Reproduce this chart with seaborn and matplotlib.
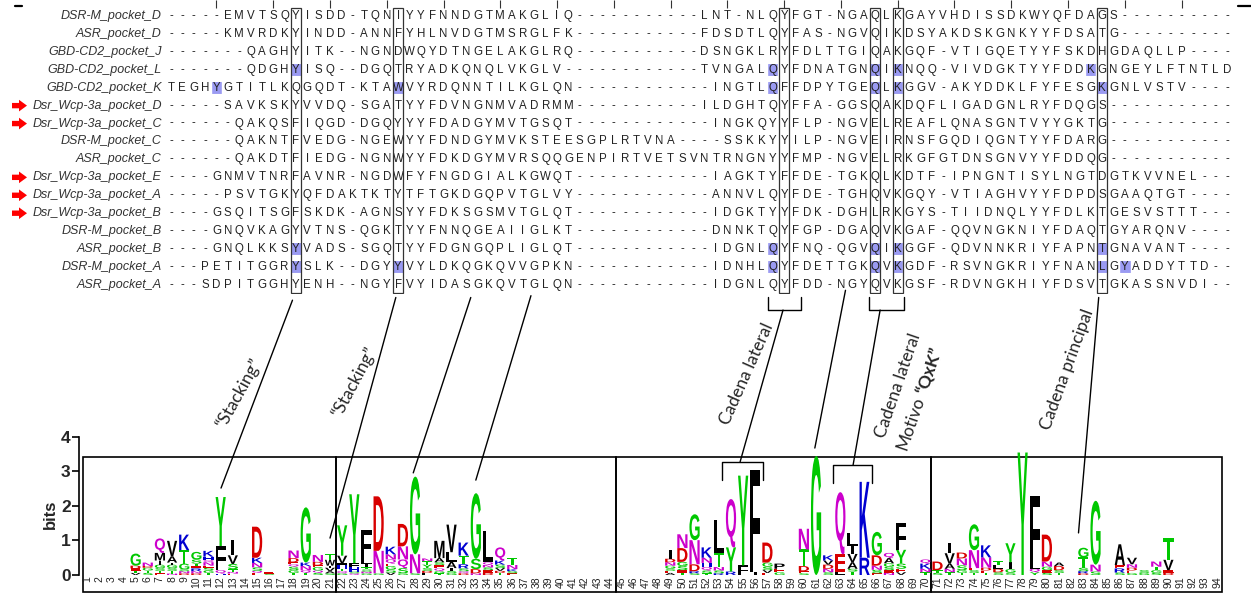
import numpy as np
import seaborn as sns
import matplotlib.pyplot as plt
from matplotlib.colors import ListedColormap
from matplotlib.patches import Rectangle, PathPatch, FancyArrow, ConnectionPatch
from matplotlib.textpath import TextPath
from matplotlib.font_manager import FontProperties
from matplotlib.transforms import Affine2D, blended_transform_factory

# alignment (94 columns)
names = ["DSR-M_pocket_D", "ASR_pocket_D", "GBD-CD2_pocket_J", "GBD-CD2_pocket_L",
         "GBD-CD2_pocket_K", "Dsr_Wcp-3a_pocket_D", "Dsr_Wcp-3a_pocket_C", "DSR-M_pocket_C",
         "ASR_pocket_C", "Dsr_Wcp-3a_pocket_E", "Dsr_Wcp-3a_pocket_A", "Dsr_Wcp-3a_pocket_B",
         "DSR-M_pocket_B", "ASR_pocket_B", "DSR-M_pocket_A", "ASR_pocket_A"]
seqs = [
    "-----EMVTSQYISDD-TQNIYYFNNDGTMAKGLIQ-----------LNT-NLQYFGT-NGAQLKGAYVHDISSDKWYQFDAGS----------",
    "-----KMVRDKYINDD-ANNFYHLNVDGTMSRGLFK-----------FDSDTLQYFAS-NGVQIKDSYAKDSKGNKYYFDSATG----------",
    "-------QAGHYITK--NGNDWQYDTNGELAKGLRQ-----------DSNGKLRYFDLTTGIQAKGQF-VTIGQETYYFSKDHGDAQLLP----",
    "-------QDGHYISQ--DGQTRYADKQNQLVKGLV------------TVNGALQYFDNATGNQIKNQQ-VIVDGKTYYFDDKGNGEYLFTNTLD",
    "TEGHYGTITLKQGQDT-KTAWVYRDQNNTILKGLQN------------INGTLQFFDPYTGEQLKGGV-AKYDDKLFYFESGKGNLVSTV----",
    "-----SAVKSKYVVDQ-SGATYYFDVNGNMVADRMM-----------ILDGHTQYFFA-GGSQAKDQFLIGADGNLRYFDQGS-----------",
    "------QAKQSFIQGD-DGQYYYFDADGYMVTGSQT------------INGKQYYFLP-NGVELREAFLQNASGNTVYYGKTG-----------",
    "------QAKNTFVEDG-NGEWYYFDNDGYMVKSTEESGPLRTVNA----SSKKYYILP-NGVEIRNSFGQDIQGNTYYFDARG-----------",
    "------QAKDTFIEDG-NGNWYYFDKDGYMVRSQQGENPIRTVETSVNTRNGNYYFMP-NGVELRKGFGTDNSGNVYYFDDQG-----------",
    "----GNMVTNRFAVNR-NGDWFYFNGDGIALKGWQT------------IAGKTYFFDE-TGKQLKDTF-IPNGNTISYLNGTDGTKVVNEL---",
    "-----PSVTGKYQFDAKTKTYTFTGKDGQPVTGLVY------------ANNVLQYFDE-TGHQVKGQY-VTIAGHVYYFDPDSGAAQTGT----",
    "----GSQITSGFSKDK-AGNSYYFDKSGSMVTGLQT------------IDGKTYYFDK-DGHLRKGYS-TIIDNQLYYFDLKTGESVSTTT---",
    "----GNQVKAGYVTNS-QGKTYYFNNQGEAIIGLKT------------DNNKTQYFGP-DGAQVKGAF-QQVNGKNIYFDAQTGYARQNV----",
    "----GNQLKKSYVADS-SGQTYYFDGNGQPLIGLQT------------IDGNLQYFNQ-QGVQIKGGF-QDVNNKRIYFAPNTGNAVANT----",
    "---PETITGGRYSLK--DGYYVYLDKQGKQVVGPKN------------IDNHLQYFDETTGKQVKGDF-RSVNGKRIYFNANLGYADDYTTD--",
    "---SDPITGGHYENH--NGYFVYIDASGKQVTGLQN------------IDGNLQYFDD-NGYQVKGSF-RDVNGKHIYFDSVTGKASSNVDI--",
]
arrow_rows = [5, 6, 9, 10, 11]
boxed_cols = [11, 20, 54, 62, 64, 82]
hl_rows = [3, 3, 3, 3, 3, 4, 4, 4, 4, 4, 4, 13, 13, 13, 13, 13, 14, 14, 14, 14, 14, 14, 14]
hl_cols = [11, 53, 62, 64, 81, 4, 20, 53, 62, 64, 82, 11, 53, 62, 64, 82, 11, 20, 53, 62, 64, 82, 84]

# sequence logo: position, letters (bottom -> top), heights in bits
logo_pos = [5, 6, 7, 8, 9, 10, 11, 12, 13, 15, 16, 18, 19, 20, 21,
            22, 23, 24, 25, 26, 27, 28, 29, 30, 31, 32, 33, 34, 35, 36,
            49, 50, 51, 52, 53, 54, 55, 56, 57, 58, 60, 61, 62, 63, 64, 65, 66, 67, 68, 70,
            71, 72, 73, 74, 75, 76, 77, 78, 79, 80, 81, 83, 84, 86, 87, 88, 89, 90]
logo_letters = ["VTEDG", "STGDN", "ETSGIMQ", "NTSGIAV", "DNSGTK", "DNRETSG", "TGSENQHK", "HQFY",
                "ENTSVI", "EQSNKD", "SE", "TGSQEDN", "TQNKG", "SQGEDN", "SAVIWT",
                "GQTHFVY", "QSHFY", "GNSTILF", "GND", "VSGEQNK", "GSQND", "SNG", "FDSYTN",
                "TGQESAM", "GSIALV", "DQSRTK", "NDSG", "DESNQL", "TDVSKQ", "ESKNT",
                "AESGNDI", "TESGDN", "SRDNG", "TSQHNK", "RSNTL", "RYQ", "FY", "IF", "EVSGD",
                "GEP", "SEDTN", "G", "SNDVK", "LEQ", "TSAVIL", "RK", "ESNDG", "NESGAQ",
                "VESYF", "TNKQ",
                "STD", "TNAVI", "TGSND", "TSENG", "TEDNK", "SDLT", "SGIY", "Y", "YQLF",
                "SEGND", "TSDA", "DRSTG", "SNG", "SREA", "GEDNV", "GS", "SGTN", "DEVT"]
logo_bits = [[.06, .06, .07, .08, .35], [.06, .07, .08, .05, .1], [.05, .07, .08, .1, .12, .22, .42],
             [.04, .08, .08, .1, .06, .18, .45], [.05, .06, .05, .17, .39, .45],
             [.05, .06, .08, .06, .08, .12, .22], [.06, .07, .08, .06, .1, .06, .1, .17],
             [.04, .1, .7, 1.42], [.04, .05, .08, .15, .25, .45], [.06, .06, .1, .13, .15, .9],
             [.04, .06], [.06, .08, .1, .07, .06, .12, .22], [.06, .08, .12, .1, 1.6],
             [.06, .07, .1, .05, .1, .2], [.05, .06, .1, .06, .17, .17],
             [.05, .06, .07, .1, .06, .22, .88], [.05, .05, .12, .12, 2.0],
             [.05, .05, .06, .06, .1, .12, .85], [.05, .65, 1.58], [.07, .09, .1, .07, .12, .15, .22],
             [.05, .15, .25, .38, .65], [.05, .55, 2.25], [.06, .06, .08, .1, .1, .08],
             [.05, .06, .08, .1, .08, .12, .5], [.06, .06, .08, .18, .28, .8],
             [.05, .06, .08, .12, .25, .38], [.05, .12, .3, 1.9], [.06, .08, .08, .07, .08, .9],
             [.06, .06, .08, .1, .12, .38], [.05, .06, .06, .12, .2],
             [.06, .06, .07, .08, .1, .1, .25], [.06, .08, .12, .12, .4, .4], [.05, .06, .2, .7, .75],
             [.05, .08, .1, .12, .15, .3], [.05, .08, .1, .4, .97], [.1, .7, 1.4], [.28, 2.6],
             [.1, 2.95], [.06, .08, .1, .12, .58], [.08, .1, .15], [.05, .06, .15, .48, .6], [3.45],
             [.08, .1, .12, .12, .15], [.1, .5, 1.8], [.1, .08, .19, .24, .22, .4], [.5, 2.2],
             [.05, .1, .12, .3, .68], [.06, .08, .1, .1, .15, .15], [.08, .1, .15, .4, .78],
             [.08, .1, .15, .12],
             [.06, .08, .25], [.08, .1, .15, .3, .3], [.06, .08, .14, .2, .17], [.06, .08, .06, .52, .75],
             [.06, .07, .08, .3, .35], [.08, .1, .1, .12], [.07, .1, .2, .55], [3.55], [.08, .1, .1, 2.0],
             [.06, .08, .1, .15, .78], [.06, .08, .12, .1], [.05, .06, .1, .3, .28], [.1, .2, 1.85],
             [.07, .12, .1, .6], [.06, .07, .08, .1, .19], [.06, .08], [.06, .08, .1, .15],
             [.06, .08, .3, .62]]
panel_edges = [0.67, 21.5, 44.5, 70.5, 94.41]

# annotations: alignment (col, row) -> logo (pos, bits)
ann_from = [(11.2, 16.35), (20.3, 16.2), (26.9, 16.2), (32.2, 16.1), (54.4, 16.9),
            (59.9, 15.8), (62.95, 16.9), (82.2, 16.2)]
ann_to = [(12.03, 2.52), (21.0, 1.07), (27.85, 2.96), (33.0, 2.75), (54.75, 3.28),
          (60.9, 3.68), (64.05, 3.19), (82.6, 1.22)]
aln_brackets = [(53.1, 56.0), (61.95, 65.05)]
logo_brackets = [(53.3, 56.6, 3.28, 2.75), (62.4, 65.6, 3.19, 2.67)]

W, H = 1251, 596
sns.set_theme(style="white")
plt.rcParams["font.family"] = ["Liberation Sans", "DejaVu Sans"]
fig = plt.figure(figsize=(W / 100, H / 100), dpi=100)


def px(l, t, r, b):
    return [l / W, 1 - b / H, (r - l) / W, (b - t) / H]


# ---- alignment ----
letters = np.array([list(s) for s in seqs])
hl = np.zeros(letters.shape, int)
hl[hl_rows, hl_cols] = 1

ax = fig.add_axes(px(165.3, 7, 1232.7, 293.9))
sns.heatmap(hl, cmap=ListedColormap(["white", "#9a9af2"]), vmin=0, vmax=1, annot=letters, fmt="",
            cbar=False, xticklabels=False, yticklabels=names, ax=ax,
            annot_kws=dict(fontsize=8.3, color="#222222"))
ax.hlines(np.arange(17), 0, letters.shape[1], color="white", lw=4.4, zorder=2)
ax.vlines(np.arange(letters.shape[1] + 1), 0, 16, color="white", lw=1.0, zorder=2)
ax.set_yticklabels(names, rotation=0, fontsize=9, fontstyle="italic", color="#333333")
ax.tick_params(axis="y", length=0, pad=2.5)
ax.set_xticks([])
for c in boxed_cols:
    ax.add_patch(Rectangle((c + 0.07, 0.06), 0.86, 15.9, fill=False, ec="#333333", lw=0.9, zorder=4))
# ruler ticks every 5 positions
ax.vlines(np.arange(4, 94, 5) + 0.5, -0.4, 0.07, color="#333333", lw=0.8, zorder=3, clip_on=False)
for a, b in aln_brackets:
    ax.plot([a, a, b, b], [16.15, 16.9, 16.9, 16.15], color="black", lw=1, clip_on=False)

blend = blended_transform_factory(fig.transFigure, ax.transData)
for r in arrow_rows:
    fig.add_artist(FancyArrow(12 / W, r + 0.5, 15 / W, 0, width=0.3, head_width=0.65,
                              head_length=8 / W, length_includes_head=True, color="red",
                              lw=0, transform=blend))

# ---- sequence logo ----
axl = fig.add_axes(px(83, 437, 1222, 592))
axl.set_xlim(panel_edges[0], panel_edges[-1])
axl.set_ylim(-0.493, 4.0)
axl.patch.set_alpha(0)
for s in ["top", "right", "bottom"]:
    axl.spines[s].set_visible(False)
axl.spines["left"].set_position(("outward", 2.9))
axl.spines["left"].set_bounds(0, 4)
axl.spines["left"].set_color("black")
axl.spines["left"].set_linewidth(1.2)
axl.set_xticks([])
axl.set_yticks(range(5))
axl.set_yticklabels([str(i) for i in range(5)], fontsize=12.5, fontweight="bold")
axl.tick_params(axis="y", left=True, length=5, width=1.2, pad=1, color="black")
axl.set_ylabel("bits", fontsize=12, fontweight="bold", labelpad=2)

for a, b in zip(panel_edges[:-1], panel_edges[1:]):
    axl.add_patch(Rectangle((a, -0.493), b - a, 3.913, fill=False, ec="black", lw=1.2, clip_on=False))
for p in range(1, 95):
    axl.text(p, -0.04, str(p), rotation=90, ha="center", va="top", fontsize=7.5, color="#222222")

colors = {}
for ch in "GSTYC":
    colors[ch] = "#00c800"
for ch in "NQ":
    colors[ch] = "#cc00cc"
for ch in "KRH":
    colors[ch] = "#0000d0"
for ch in "DE":
    colors[ch] = "#d80000"
for ch in "AVLIPWFM":
    colors[ch] = "black"
fp = FontProperties(family="Liberation Sans", weight="bold")


def glyph(ch, x, y0, h):
    w = 0.22 if ch == "I" else 0.84
    tp = TextPath((0, 0), ch, size=1, prop=fp)
    bb = tp.get_extents()
    tr = Affine2D().translate(-bb.x0, -bb.y0).scale(w / bb.width, h / bb.height).translate(x - w / 2, y0)
    axl.add_patch(PathPatch(tr.transform_path(tp), fc=colors[ch], lw=0, clip_on=False))


for p, lets, hs in zip(logo_pos, logo_letters, logo_bits):
    y = 0.0
    for ch, h in zip(lets, hs):
        glyph(ch, p, y, h)
        y += h

for a, b, top, bot in logo_brackets:
    axl.plot([a, a, b, b], [bot, top, top, bot], color="black", lw=1, clip_on=False)

for (c, r), (p, v) in zip(ann_from, ann_to):
    fig.add_artist(ConnectionPatch((c, r), (p, v), coordsA=ax.transData, coordsB=axl.transData,
                                   color="black", lw=1.0))

# ---- labels ----
axa = fig.add_axes([0, 0, 1, 1])
axa.set_xlim(0, W)
axa.set_ylim(H, 0)
axa.axis("off")
axa.plot([15, 22], [5.8, 5.8], color="black", lw=1.6)
axa.plot([1238, 1251], [5.8, 5.8], color="black", lw=1.6)
lab = dict(family=["Lato", "DejaVu Sans"], fontsize=12.5, ha="center", va="center", rotation_mode="anchor")
axa.text(239, 393, "\u201cStacking\u201d", rotation=61, **lab)
axa.text(354, 382, "\u201cStacking\u201d", rotation=62, **lab)
axa.text(747, 374, "Cadena lateral", rotation=66, **lab)
axa.text(898, 386, "Cadena lateral", rotation=71, **lab)
axa.text(911, 423, "Motivo", rotation=71, **lab)
axa.text(929, 371, "\u201cQxK\u201d", rotation=71, fontweight="bold", **lab)
axa.text(1067, 369, "Cadena principal", rotation=70, **lab)

fig.savefig("out.png", dpi=100)
